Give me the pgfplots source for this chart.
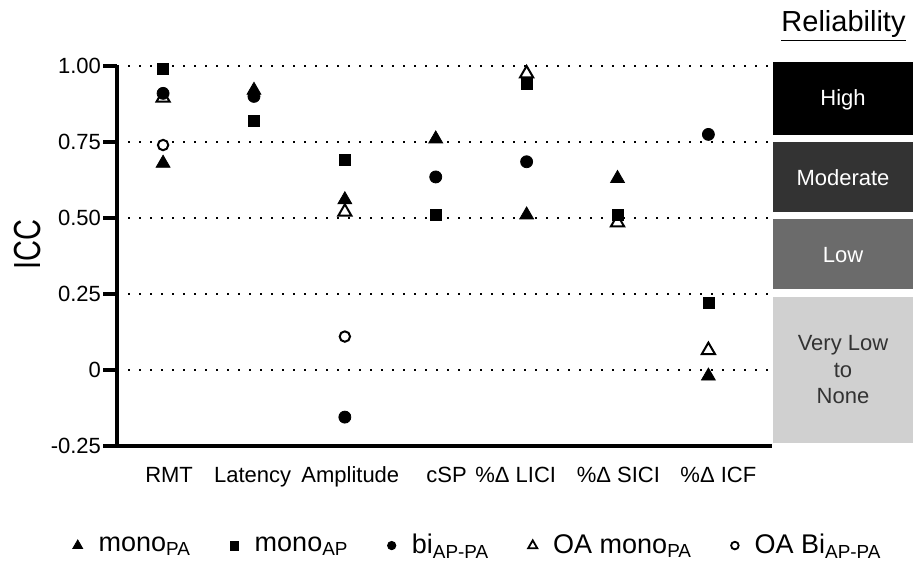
\documentclass[border=0pt]{standalone}
\usepackage{fontspec}
\setmainfont{Liberation Sans}
\usepackage{pgfplots}
\pgfplotsset{compat=1.18}
\definecolor{modgray}{HTML}{333333}
\definecolor{lowgray}{HTML}{6B6B6B}
\definecolor{vlgray}{HTML}{D0D0D0}
\definecolor{vltext}{HTML}{333333}
\begin{document}
\begin{tikzpicture}[x=0.5pt,y=0.5pt]
\useasboundingbox (0,0) rectangle (913,566);
% Reliability bands
\fill[black]   (773,431) rectangle (913,504);
\fill[modgray] (773,354) rectangle (913,424);
\fill[lowgray] (773,277) rectangle (913,347);
\fill[vlgray]  (773,123) rectangle (913,269);
\node[anchor=base, font=\fontsize{14.5}{16}\selectfont] at (843.5,534) {\underline{Reliability}};
\node[white, font=\fontsize{11}{13}\selectfont] at (843,466) {High};
\node[white, font=\fontsize{11}{13}\selectfont] at (843,388) {Moderate};
\node[white, font=\fontsize{11}{13}\selectfont] at (843,311) {Low};
\node[vltext, align=center, font=\fontsize{11}{13.25}\selectfont] at (843,196) {Very Low\\to\\None};
\begin{axis}[
  at={(58.5pt,60pt)}, anchor=south west,
  scale only axis, width=327.5pt, height=190pt,
  xmin=-0.507, xmax=6.70, ymin=-0.25, ymax=1.0,
  clip=false,
  axis lines=left,
  axis line style={-, line width=1.6pt, black},
  xtick={0.066,0.986,2.06,3.12,3.88,5.01,6.11},
  xticklabels={RMT,Latency,Amplitude,cSP,\%Δ LICI,\%Δ SICI,\%Δ ICF},
  xtick style={draw=none},
  ytick={-0.25,0,0.25,0.5,0.75,1},
  yticklabels={-0.25,0,0.25,0.50,0.75,1.00},
  tick align=outside,
  ytick style={line width=1.6pt, black},
  major tick length=7pt,
  ymajorgrids,
  grid style={black, line width=1.2pt, dash pattern=on 1.2pt off 4.3pt},
  tick label style={font=\fontsize{11}{13}\selectfont},
  yticklabel style={xshift=2.5pt},
  xticklabel style={text height=8pt, text depth=2.5pt, yshift=0.5pt},
  ylabel={\scalebox{1}[1.3]{\fontsize{14.5}{16}\selectfont ICC}},
  ylabel style={at={(axis description cs:-0.137,0.529)}, anchor=center},
  legend columns=5,
  legend style={draw=none, fill=none, at={(axis description cs:0.553,-0.262)}, anchor=center,
    font=\fontsize{13.5}{16}\selectfont,
    /tikz/every odd column/.append style={column sep=6pt},
    /tikz/every even column/.append style={column sep=17.5pt}},
]
\addlegendimage{only marks, mark=triangle*, mark size=2.8pt, black}
\addlegendentry{mono\textsubscript{PA}}
\addlegendimage{only marks, mark=square*, mark size=2.2pt, black}
\addlegendentry{mono\textsubscript{AP}}
\addlegendimage{only marks, mark=*, mark size=2.1pt, black}
\addlegendentry{bi\textsubscript{AP-PA}\hspace{-5pt}}
\addlegendimage{only marks, mark=triangle*, mark size=2.6pt, black, mark options={fill=white, line width=0.9pt}}
\addlegendentry{OA mono\textsubscript{PA}\hspace{8.5pt}}
\addlegendimage{only marks, mark=*, mark size=1.9pt, black, mark options={fill=white, line width=0.9pt}}
\addlegendentry{OA Bi\textsubscript{AP-PA}}
% OA mono_PA (open triangle)
\addplot[forget plot, only marks, mark=triangle*, mark size=3.8pt, black, mark options={fill=white, line width=1pt}]
  coordinates {(0,0.895) (2,0.52) (4,0.975) (5,0.485) (6,0.065)};
% mono_PA (filled triangle)
\addplot[forget plot, only marks, mark=triangle*, mark size=4pt, black]
  coordinates {(0,0.68) (1,0.92) (2,0.56) (3,0.76) (4,0.51) (5,0.63) (6,-0.02)};
% mono_AP (square)
\addplot[forget plot, only marks, mark=square*, mark size=2.75pt, black]
  coordinates {(0,0.99) (1,0.82) (2,0.69) (3,0.51) (4,0.94) (5,0.51) (6,0.22)};
% bi_AP-PA (filled circle)
\addplot[forget plot, only marks, mark=*, mark size=3pt, black]
  coordinates {(0,0.91) (1,0.90) (2,-0.155) (3,0.635) (4,0.685) (6,0.775)};
% OA Bi_AP-PA (open circle)
\addplot[forget plot, only marks, mark=*, mark size=2.6pt, black, mark options={fill=white, line width=1pt}]
  coordinates {(0,0.74) (2,0.11)};
\end{axis}
\end{tikzpicture}
\end{document}
